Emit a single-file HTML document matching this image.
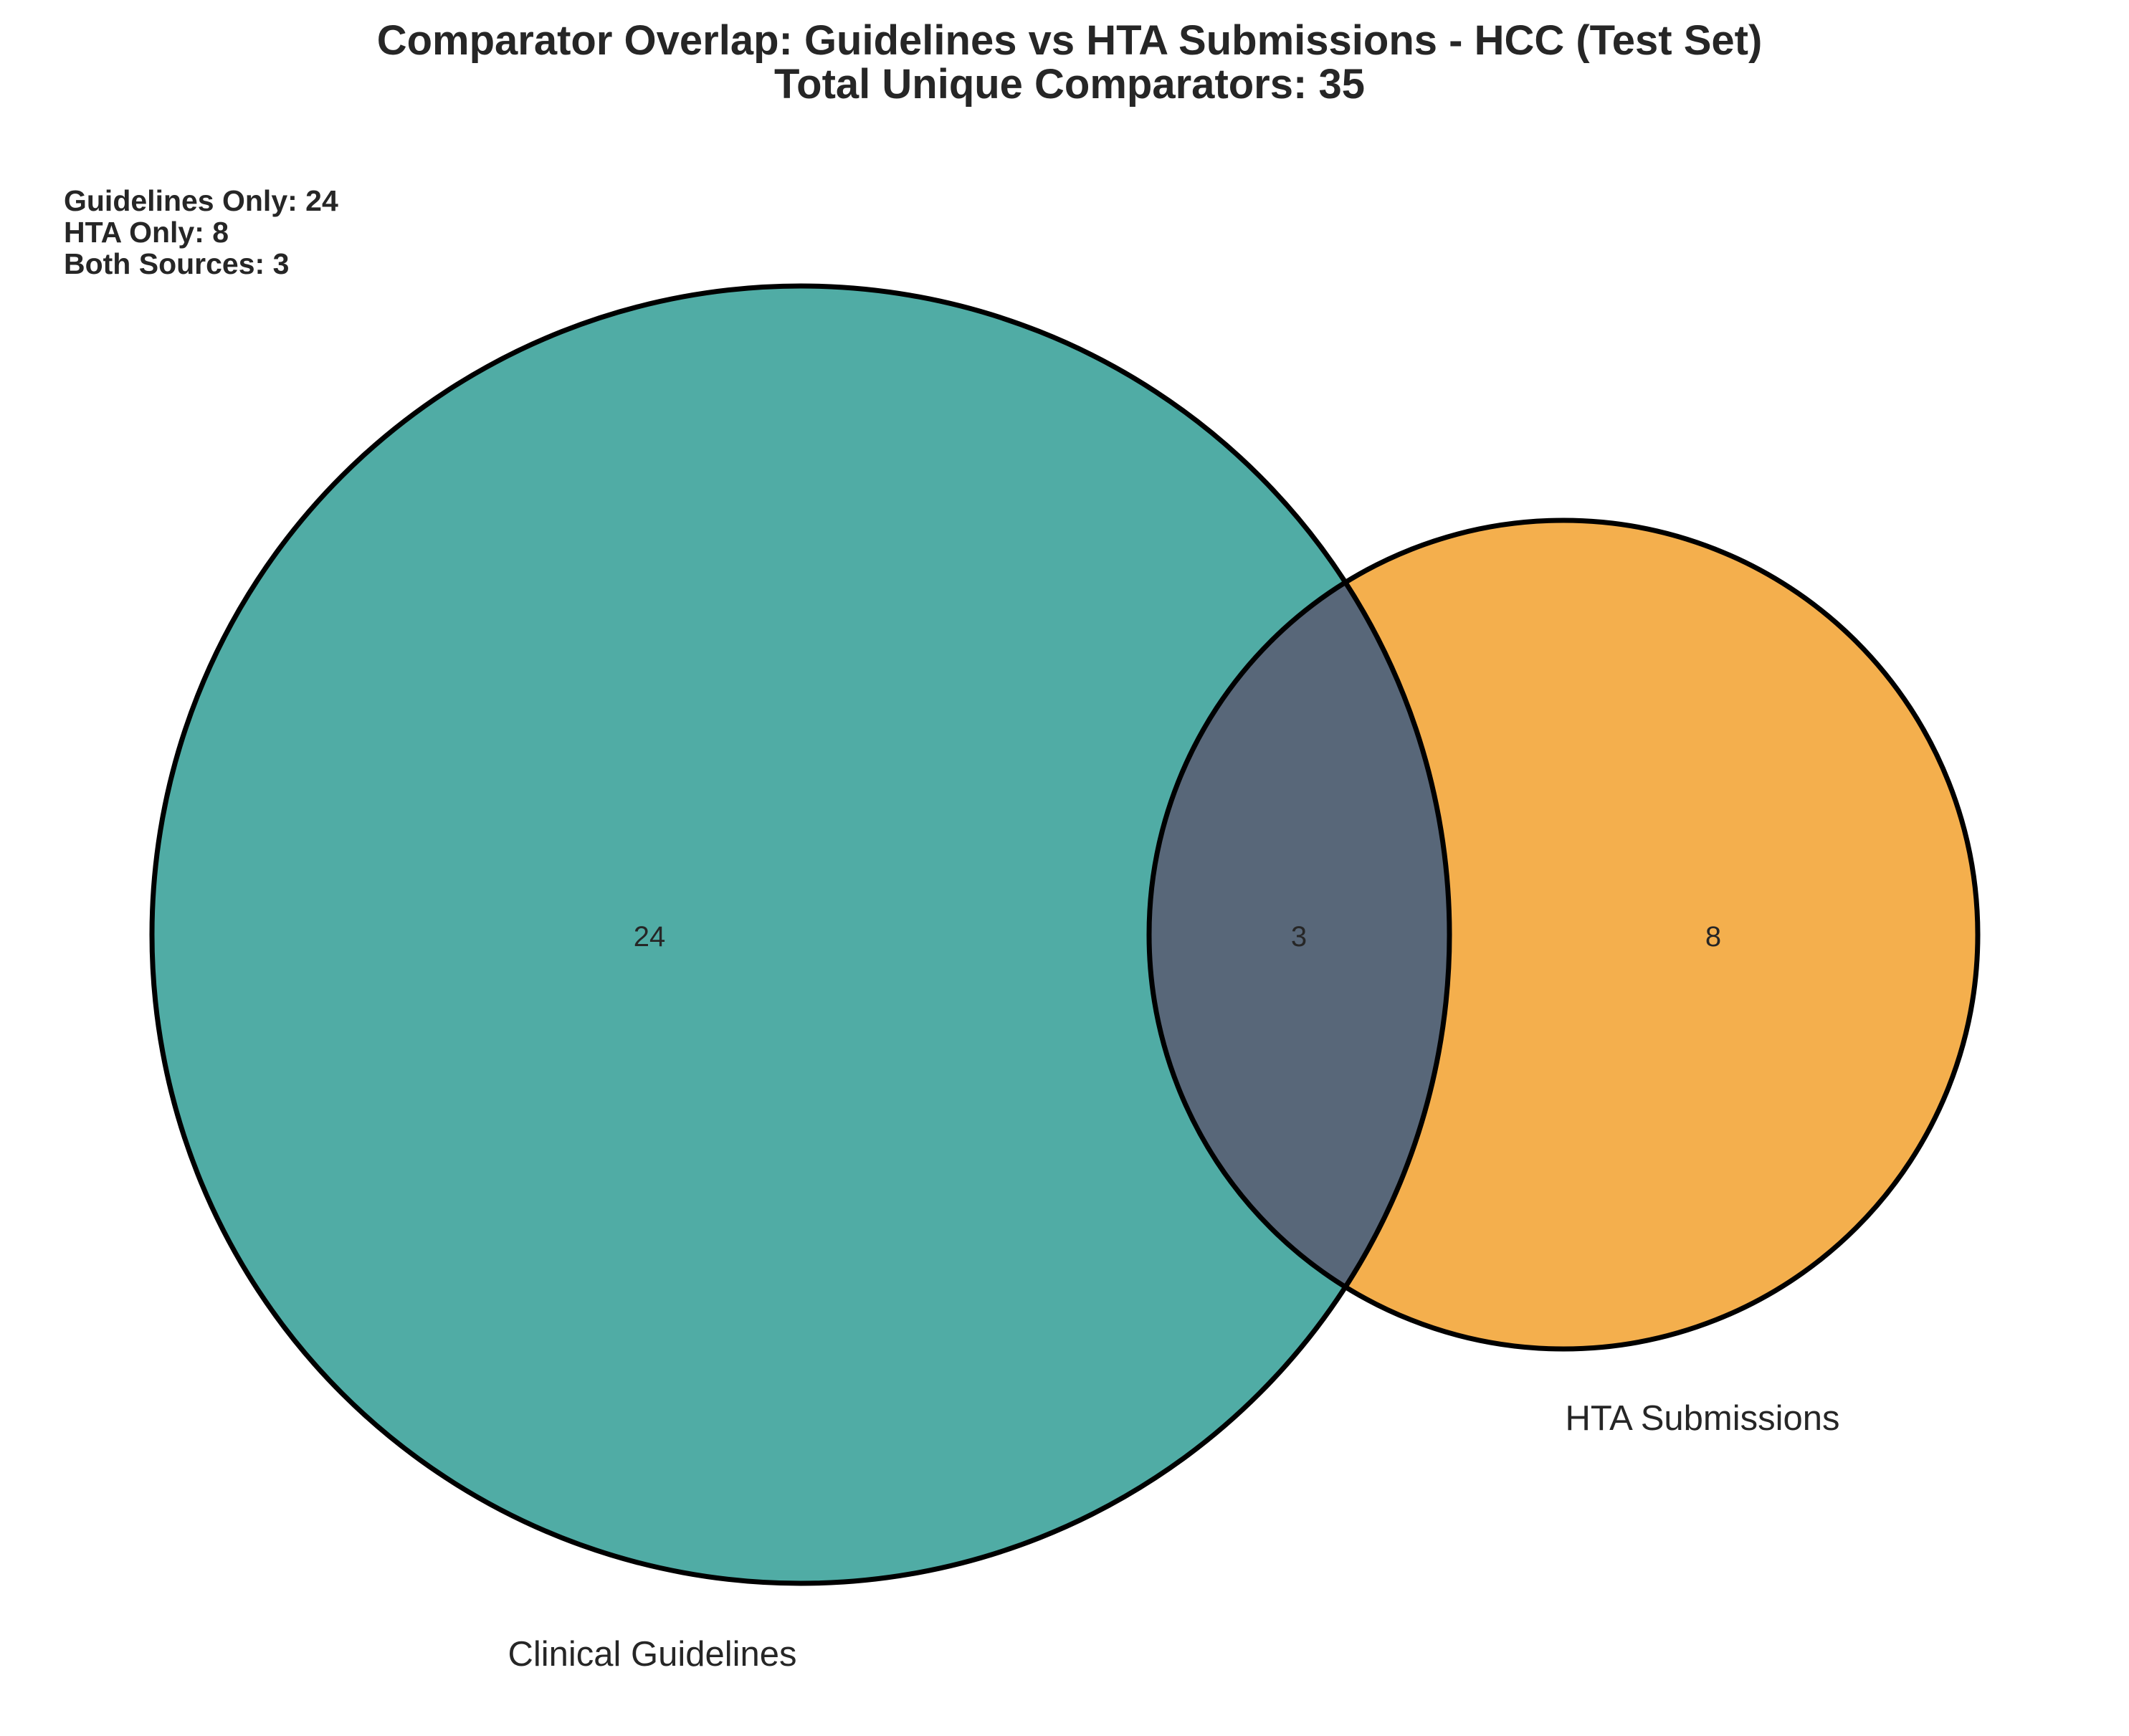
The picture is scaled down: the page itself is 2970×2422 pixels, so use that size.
<!DOCTYPE html>
<html><head><meta charset="utf-8"><style>
html,body{margin:0;padding:0;background:#fff;}
svg{display:block;}
text{font-family:"Liberation Sans",Arial,sans-serif;fill:#262626;}
</style></head><body>
<svg width="2970" height="2422" viewBox="0 0 2970 2422">
<text x="1492" y="76" text-anchor="middle" font-size="58" font-weight="bold">Comparator Overlap: Guidelines vs HTA Submissions - HCC (Test Set)</text>
<text x="1492" y="137" text-anchor="middle" font-size="58" font-weight="bold">Total Unique Comparators: 35</text>
<text x="89" y="294" font-size="41" font-weight="bold">Guidelines Only: 24</text>
<text x="89" y="338" font-size="41" font-weight="bold">HTA Only: 8</text>
<text x="89" y="382" font-size="41" font-weight="bold">Both Sources: 3</text>
<defs>
<clipPath id="clipBig"><circle cx="1117" cy="1304" r="905"/></clipPath>
</defs>
<circle cx="1117" cy="1304" r="905" fill="#50ACA5"/>
<circle cx="2181" cy="1304" r="578" fill="#F4AF4D"/>
<circle cx="2181" cy="1304" r="578" fill="#586779" clip-path="url(#clipBig)"/>
<circle cx="1117" cy="1304" r="905" fill="none" stroke="#000" stroke-width="7"/>
<circle cx="2181" cy="1304" r="578" fill="none" stroke="#000" stroke-width="7"/>
<text x="906" y="1320" text-anchor="middle" font-size="40">24</text>
<text x="1812" y="1320" text-anchor="middle" font-size="40">3</text>
<text x="2390" y="1320" text-anchor="middle" font-size="40">8</text>
<text x="910" y="2324" text-anchor="middle" font-size="49">Clinical Guidelines</text>
<text x="2375" y="1995" text-anchor="middle" font-size="49">HTA Submissions</text>
</svg>
</body></html>
